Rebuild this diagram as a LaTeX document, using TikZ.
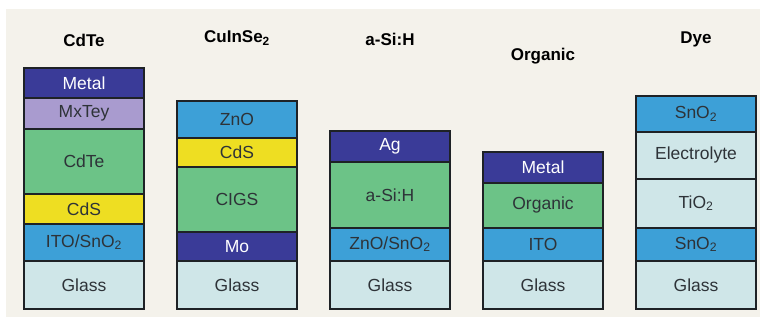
\documentclass[tikz,border=0pt]{standalone}
\usepackage{fontspec}
\setmainfont{Liberation Sans}
\definecolor{bgpanel}{HTML}{F4F2EB}
\definecolor{ltdark}{HTML}{3A3B98}
\definecolor{ltpurple}{HTML}{A99BCF}
\definecolor{ltgreen}{HTML}{6CC387}
\definecolor{ltyellow}{HTML}{EEDE22}
\definecolor{ltblue}{HTML}{3DA0D7}
\definecolor{ltglass}{HTML}{CFE6E8}
\definecolor{ltline}{HTML}{1E2226}
\definecolor{lttext}{HTML}{2E3338}
\tikzset{
  layer/.style={draw=ltline, line width=1.6pt, minimum width=120pt, inner sep=0pt,
    anchor=north, font=\fontsize{17.5}{17.5}\selectfont, text=lttext},
  stacktitle/.style={font=\bfseries\fontsize{17}{17}\selectfont, text=black}
}
\begin{document}
\begin{tikzpicture}[x=1pt, y=-1pt]
  \useasboundingbox (0,0) rectangle (766,326);
  \fill[bgpanel] (6,9) rectangle (760,317);

  % CdTe stack
  \begin{scope}[xshift=84pt]
    \node[stacktitle] (cdte title) at (0, 40) {CdTe};
    \node[layer, fill=ltdark, text=white, minimum height=30pt] (cdte metal) at (0, 67) {Metal};
    \node[layer, fill=ltpurple, minimum height=31pt] (cdte mxtey) at (0, 97) {MxTey};
    \node[layer, fill=ltgreen, minimum height=65pt] (cdte absorber) at (0, 128) {CdTe};
    \node[layer, fill=ltyellow, minimum height=30pt] (cdte cds) at (0, 193) {CdS};
    \node[layer, fill=ltblue, minimum height=37pt] (cdte ito) at (0, 223) {ITO/SnO\textsubscript{2}};
    \node[layer, fill=ltglass, minimum height=48pt] (cdte glass) at (0, 260) {Glass};
  \end{scope}

  % CuInSe2 stack
  \begin{scope}[xshift=237pt]
    \node[stacktitle] (cis title) at (0, 38) {CuInSe\textsubscript{2}};
    \node[layer, fill=ltblue, minimum height=37pt] (cis zno) at (0, 100) {ZnO};
    \node[layer, fill=ltyellow, minimum height=29pt] (cis cds) at (0, 137) {CdS};
    \node[layer, fill=ltgreen, minimum height=65pt] (cis cigs) at (0, 166) {CIGS};
    \node[layer, fill=ltdark, text=white, minimum height=29pt] (cis mo) at (0, 231) {Mo};
    \node[layer, fill=ltglass, minimum height=48pt] (cis glass) at (0, 260) {Glass};
  \end{scope}

  % a-Si:H stack
  \begin{scope}[xshift=390pt]
    \node[stacktitle] (asi title) at (0, 39) {a-Si:H};
    \node[layer, fill=ltdark, text=white, minimum height=31pt] (asi ag) at (0, 130) {Ag};
    \node[layer, fill=ltgreen, minimum height=66pt] (asi absorber) at (0, 161) {a-Si:H};
    \node[layer, fill=ltblue, minimum height=33pt] (asi zno) at (0, 227) {ZnO/SnO\textsubscript{2}};
    \node[layer, fill=ltglass, minimum height=48pt] (asi glass) at (0, 260) {Glass};
  \end{scope}

  % Organic stack
  \begin{scope}[xshift=543pt]
    \node[stacktitle] (org title) at (0, 56) {Organic};
    \node[layer, fill=ltdark, text=white, minimum height=31pt] (org metal) at (0, 151) {Metal};
    \node[layer, fill=ltgreen, minimum height=45pt] (org absorber) at (0, 182) {Organic};
    \node[layer, fill=ltblue, minimum height=33pt] (org ito) at (0, 227) {ITO};
    \node[layer, fill=ltglass, minimum height=48pt] (org glass) at (0, 260) {Glass};
  \end{scope}

  % Dye stack
  \begin{scope}[xshift=696pt]
    \node[stacktitle] (dye title) at (0, 39) {Dye};
    \node[layer, fill=ltblue, minimum height=36pt] (dye sno top) at (0, 95) {SnO\textsubscript{2}};
    \node[layer, fill=ltglass, minimum height=47pt] (dye electrolyte) at (0, 131) {Electrolyte};
    \node[layer, fill=ltglass, minimum height=49pt] (dye tio) at (0, 178) {TiO\textsubscript{2}};
    \node[layer, fill=ltblue, minimum height=33pt] (dye sno bottom) at (0, 227) {SnO\textsubscript{2}};
    \node[layer, fill=ltglass, minimum height=48pt] (dye glass) at (0, 260) {Glass};
  \end{scope}
\end{tikzpicture}
\end{document}
